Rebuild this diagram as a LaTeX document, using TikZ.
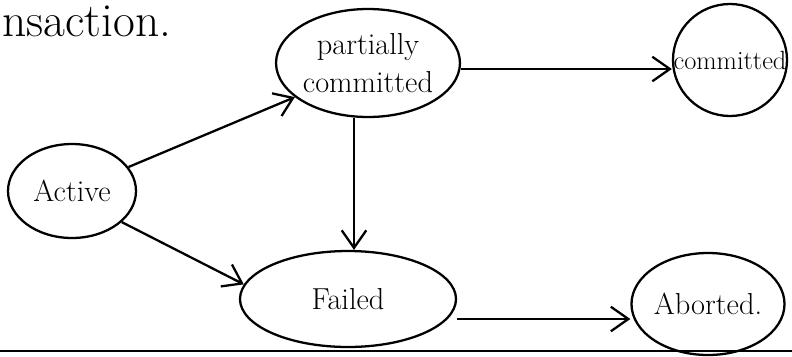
\documentclass[tikz,border=0pt]{standalone}
\usetikzlibrary{arrows.meta, shapes.geometric}

\tikzset{
  state/.style={draw, ellipse, line width=1.3pt, inner sep=0pt, align=center, font=\LARGE},
  trans/.style={-{Straight Barb[length=10pt, width=14pt]}, line width=1.3pt}
}

\begin{document}
\begin{tikzpicture}[x=0.02cm, y=-0.02cm]

% Page frame
\useasboundingbox (0,0) rectangle (792,356);

% Heading at the top left
\node[anchor=base west, inner sep=0pt, font=\fontsize{27}{32}\selectfont] (head) at (2,36) {nsaction.};

% States
\node[state, minimum width=128*0.02cm, minimum height=94*0.02cm] (act) at (72,191) {Active};
\node[state, minimum width=170*0.02cm, minimum height=108*0.02cm] (part) at (368,63) {partially\\committed};
\node[state, font=\fontsize{15}{18}\selectfont, inner sep=-10pt, minimum width=114*0.02cm, minimum height=112*0.02cm] (comm) at (730,60) {committed};
\node[state, minimum width=216*0.02cm, minimum height=96*0.02cm] (fail) at (348,299) {Failed};
\node[state, minimum width=146*0.02cm, minimum height=102*0.02cm] (abrt) at (708,304) {Aborted.};

% Transitions
\draw[trans] (act.23) -- (part.205);
\draw[trans] (act.-32) -- (fail.172);
\draw[trans] (part.south) ++(-14,0) coordinate (pf) -- (pf |- fail.north);
\draw[trans] (part.east) ++(0,6) coordinate (pc) -- (pc -| comm.west);
\draw[trans] (fail.east) ++(0,20) coordinate (fa) -- (fa -| abrt.west);

% Rule along the bottom
\coordinate (ruleL) at (0,351);
\coordinate (ruleR) at (792,351);
\draw[line width=1.4pt] (ruleL) -- (ruleR);

\end{tikzpicture}
\end{document}
